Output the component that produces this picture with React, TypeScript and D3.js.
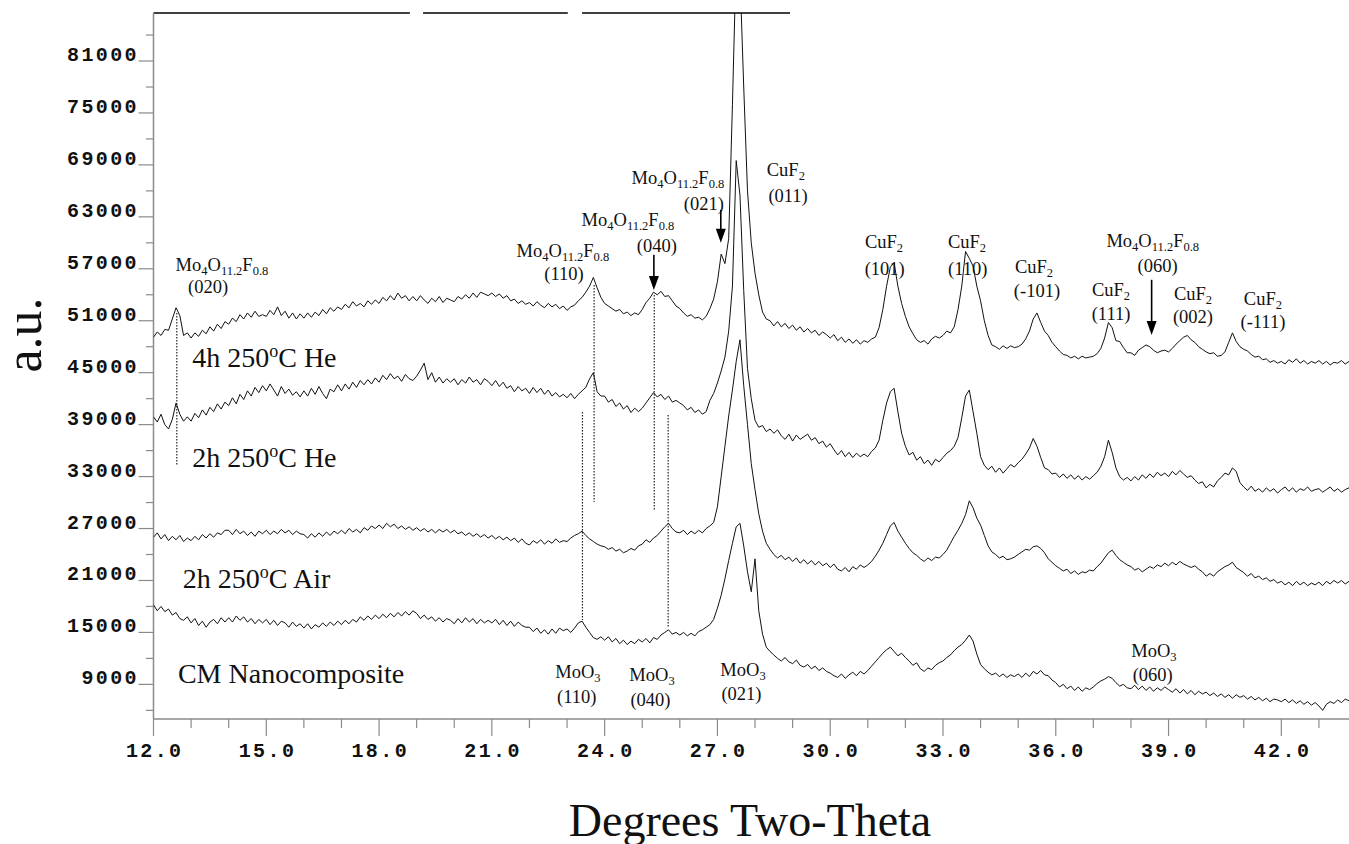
import React, { useEffect, useRef } from "react";
import * as d3 from "d3";

// two-theta sampling grid of the scan (degrees)
const thetaStart = 12.0;
const thetaStep = 0.1;

// counts, one row per degree (12.0 ... 43.9)
const he4h = [
  49100, 49700, 49300, 50000, 49900, 51200, 52500, 51600, 49300, 49600,
  49000, 49600, 49200, 49900, 49500, 50300, 49800, 50600, 50100, 50900,
  50600, 51300, 50900, 51700, 51200, 51900, 51400, 52100, 51500, 51700,
  51500, 52200, 51700, 52600, 51600, 52100, 51300, 51900, 51200, 51800,
  51300, 51900, 51400, 52000, 51600, 52300, 51800, 52500, 52100, 52600,
  52300, 52900, 52500, 53200, 52700, 53000, 52600, 53300, 52900, 53400,
  53000, 53700, 53300, 53900, 53400, 54200, 53600, 53900, 53300, 53800,
  53300, 53900, 53400, 53000, 53600, 53200, 53800, 53100, 53600, 53400,
  53200, 53800, 53500, 54000, 53600, 54200, 53700, 54300, 54100, 53900,
  54200, 53800, 54100, 53600, 53900, 53300, 53500, 53000, 53300, 52900,
  53100, 52700, 53200, 52800, 52500, 53000, 52600, 52900, 52400, 52700,
  52200, 52600, 52800, 53300, 53700, 54300, 55000, 56000, 54800, 53700,
  53000, 52700, 52400, 52100, 52300, 51800, 52000, 51600, 51900, 51700,
  52300, 53100, 53600, 54300, 54000, 54400, 53800, 53900, 53300, 52700,
  52400, 51900, 51500, 51700, 51300, 51400, 51100, 51500, 52400, 53500,
  55500, 58700, 57600, 60500, 76000, 93000, 91000, 78000, 66000, 60000,
  56500, 54000, 52000, 51200, 51000, 50400, 50900, 50300, 50700, 50100,
  50500, 49900, 50300, 49700, 50100, 49600, 49900, 49300, 49700, 49400,
  49000, 49400, 48700, 49100, 48500, 48900, 48400, 48800, 48300, 48700,
  48500, 48900, 49100, 50200, 52300, 55000, 57200, 57700, 55000, 53000,
  51500, 50300, 49500, 48800, 48500, 48700, 48300, 48900, 49200, 49000,
  49300, 49800, 49600, 50300, 52300, 55000, 59000, 58200, 57300, 55000,
  53300, 51000, 49300, 48200, 48000, 47700, 48100, 47800, 48100, 47900,
  48000, 48300, 48900, 49800, 51200, 51900, 50800, 49800, 49300, 48500,
  48000, 47500, 47100, 47000, 46700, 46900, 46600, 46900, 46700, 46800,
  46900, 47200, 47800, 49000, 50800, 50200, 48700, 48600, 47900, 47300,
  47300, 47000, 47600, 47900, 48200, 48000, 47600, 47300, 47500, 47600,
  47400, 47800, 48300, 48700, 49100, 49300, 48800, 48500, 48000, 47700,
  47400, 47200, 47300, 46900, 47000, 47400, 48500, 49600, 48600, 48000,
  47700, 47500, 47100, 46800, 46900, 46500, 46600, 46200, 46400, 46100,
  46300, 46000, 46500, 46200, 46600, 46100, 46400, 46000, 46300, 46100,
  46400, 46000, 46300, 45900, 46200, 46100, 46400, 46000, 46300, 46200,
];

const he2h = [
  39900, 39300, 40200, 39000, 38500, 39600, 41500, 40200, 39400, 39900,
  39400, 40300, 39800, 40700, 40100, 41000, 40500, 41400, 40800, 41600,
  41200, 42100, 41400, 42500, 41900, 42900, 42300, 43300, 42700, 43500,
  42900, 43700, 43000, 42300, 43400, 42600, 43100, 42400, 42800, 42200,
  42900, 42300, 43200, 42500, 43400, 42600, 42000, 43100, 42800, 43600,
  42900, 43700, 43100, 43900, 43300, 44100, 43600, 44200, 43700, 44400,
  43900, 44700, 44200, 44900, 44300, 44600, 44000, 44800, 44300, 44100,
  44600, 45300, 46100, 44200, 45000, 43900, 44500, 43800, 44300, 43900,
  44300, 43600, 44200, 43800, 44500, 43900, 44200, 43600, 44300, 44000,
  43500, 44100, 43400, 43900, 43200, 43500, 42800, 43400, 42900, 43200,
  42600, 43300, 42700, 43200, 42500, 43000, 42300, 42700, 42200, 42500,
  42100, 42600, 42000, 42500, 42900, 43300, 44300, 45000, 42800, 42300,
  42300, 41600, 41900, 41100, 41500, 40800, 41200, 40400, 40900, 40500,
  40900, 41500, 42100, 42700, 42200, 42500, 41900, 42300, 41600, 41800,
  41500, 41200, 40700, 41000, 40400, 40700, 40200, 40500, 41800, 42600,
  43800, 45200, 46800, 49800, 55000, 69500, 65500, 54500, 45500, 42000,
  39500, 38700, 38900, 38200, 38500, 38000, 38400, 37700, 37300, 37900,
  37100, 37800, 37300, 37600, 37900, 37200, 37500, 36800, 37100, 36400,
  36800, 36100, 35500, 36000, 35300, 35800, 35200, 35700, 35300, 35600,
  35300, 35900, 36300, 37200, 39500, 41500, 42800, 43200, 40500, 38000,
  36500, 35500, 35800, 34900, 35300, 34500, 34900, 34300, 35000, 34700,
  35200, 35700, 36000, 36500, 37500, 39800, 42300, 43000, 40500, 38000,
  35300, 34300, 33800, 34200, 33500, 34000, 33400, 33900, 34400, 34100,
  34600, 35000, 35600, 36300, 37400, 36500, 35200, 34000, 33800, 33300,
  33400, 32900, 33300, 32800, 33200, 32700, 33100, 32600, 33000, 32700,
  33100, 33500, 34200, 35300, 37200, 35800, 34000, 33000, 32600, 32900,
  32500, 33000, 32600, 33200, 32800, 33300, 32900, 33500, 33100, 33400,
  33000, 33600, 33200, 33700, 33300, 32900, 33100, 32600, 32200, 32400,
  31700, 32100, 31800, 32500, 32900, 33400, 33200, 34000, 33600, 32300,
  31800, 31400, 31900, 31300, 31600, 31200, 31700, 31300, 31600, 31100,
  31500, 31800, 31300, 31700, 31200, 31600, 31400, 31800, 31300, 31500,
  31600, 31200, 31500, 31800, 31300, 31600, 31200, 31500, 31700, 31400,
];

const air2h = [
  26000, 26500, 25800, 26300, 25600, 26100, 25700, 26200, 25500, 25900,
  25600, 26100, 25700, 26300, 25900, 26400, 26000, 26500, 26300, 26800,
  26800, 26300, 26900, 26400, 26700, 26200, 26600, 26100, 26700, 26400,
  26800, 26300, 26700, 26400, 26900, 26500, 26800, 26300, 26700, 26400,
  26300, 25900, 26400, 26000, 26500, 26100, 26600, 26200, 26700, 26400,
  26800, 26400, 27000, 26600, 26900, 26500, 27100, 26800, 27300, 27000,
  27400, 27000, 27600, 27200, 27500, 27000, 27300, 26900, 27200, 26800,
  27100, 26700, 27000, 26600, 26900, 26500, 26900, 26600, 26900, 26500,
  26800, 26400, 26600, 26200, 26500, 26100, 26400, 26000, 26300, 25900,
  26200, 25800, 26100, 25700, 26000, 25600, 25900, 25400, 25800, 25300,
  25100, 25600, 25300, 25700, 25200, 25600, 25300, 25800, 25400, 25600,
  25500, 25900, 26200, 26400, 26700, 26200, 25800, 25500, 25200, 25000,
  24900, 24600, 24800, 24400, 24600, 24200, 24400, 24700, 24500, 25000,
  25200, 25700, 25400, 25900, 26200, 26700, 27200, 27600, 27000, 26600,
  26500, 26800, 26300, 26700, 26400, 26800, 26500, 27000, 27300, 27700,
  29500, 33000, 36500, 40000, 43000, 46300, 48800, 43500, 39000, 34500,
  31500, 28700, 26700, 25300, 24600, 24000, 23600, 23900, 23400, 23700,
  23200, 23600, 23000, 23400, 22900, 23300, 22800, 23200, 22700, 23000,
  22500, 22900, 22300, 22100, 22500, 22000, 22600, 22300, 22800, 22500,
  22800, 23200, 23800, 24500, 25300, 26300, 27300, 27700, 26700, 26000,
  25300, 24700, 24200, 23900, 23500, 23200, 23600, 23300, 23700, 23600,
  24000, 24500, 25300, 26100, 26800, 27600, 28600, 30200, 29400, 28200,
  27400, 26200, 25000, 24300, 24000, 23600, 23800, 23400, 23500, 23700,
  24000, 24300, 24600, 24500, 24900, 25000, 24700, 24200, 23500, 23100,
  22700, 22400, 22100, 22300, 21800, 22100, 21700, 22000, 21900, 22200,
  22100, 22600, 23000, 23600, 24200, 24500, 23900, 23400, 23100, 22800,
  22600, 22200, 22400, 22000, 22300, 22600, 22400, 22800, 22600, 23000,
  22700, 23100, 22800, 23200, 22900, 22700, 22500, 22700, 22300, 22000,
  21500, 21800, 21500, 22000, 22300, 22600, 22800, 23100, 22500, 22200,
  21900, 21500, 21800, 21300, 21500, 21100, 21300, 20900, 21100, 20700,
  20900, 20500, 20800, 20400, 20900, 20500, 20800, 20400, 20700, 20500,
  20800, 20400, 20900, 20600, 21000, 20700, 21000, 20600, 20900, 20700,
];

const cmNano = [
  18200, 17500, 18000, 17400, 17700, 17000, 17300, 16600, 16400, 16800,
  16100, 16600, 15800, 16300, 15600, 16200, 16500, 16000, 16700, 16200,
  16700, 16200, 16900, 16400, 16800, 16200, 16600, 16000, 16500, 16100,
  16500, 15900, 16400, 15800, 16300, 16100, 15600, 16200, 15700, 16000,
  15500, 16000, 15400, 15900, 15600, 16100, 15700, 16200, 15800, 16300,
  15900, 16400, 16000, 16500, 16200, 16800, 16400, 16900, 16500, 17000,
  16600, 17100, 16700, 17200, 16800, 17300, 16900, 17400, 17000, 17500,
  17200, 16600, 17000, 16500, 16800, 16300, 16700, 16200, 16600, 16400,
  16000, 16600, 16100, 16700, 16200, 16600, 16000, 16500, 16100, 16400,
  16100, 16500, 15900, 16400, 15800, 16300, 15700, 16200, 15800, 15600,
  15600, 15100, 15500, 14900, 15300, 14800, 15400, 14900, 15500, 15200,
  15400, 15000, 15500, 16100, 16300, 15600, 15000, 14400, 14200, 14500,
  14100, 14500, 13900, 14300, 13700, 14100, 13600, 14000, 13700, 14200,
  13900, 14300, 13800, 14400, 14200, 14700, 15000, 15300, 14800, 15000,
  14700, 15000, 14600, 14900, 14600, 15100, 15300, 15600, 15900, 16500,
  17800, 19300, 21200, 23300, 25300, 27200, 27600, 25000, 22000, 19700,
  23500, 17500, 14800, 13300, 12800, 12400, 12000, 11700, 12100, 11600,
  11400, 11800, 11200, 11000, 11300, 10800, 11100, 10600, 10900, 10500,
  10300, 10000, 9800, 10200, 9700, 10100, 10400, 10000, 10500, 10200,
  10600, 11100, 11600, 12100, 12600, 13000, 13300, 12800, 12300, 12600,
  12100, 11700, 11200, 11500, 10800, 10500, 10900, 10700, 11200, 11500,
  11700, 12100, 12400, 12900, 13300, 13600, 14100, 14700, 14000, 12500,
  11300, 10800, 10400, 10100, 10300, 9900, 10200, 9800, 10100, 9900,
  10200, 9800, 10300, 9900, 10500, 10200, 10600, 10100, 10000, 9500,
  9200, 8700, 9000, 8500, 8800, 8300, 8700, 8200, 8600, 8400,
  8700, 9100, 9400, 9600, 9900, 9700, 9200, 8800, 9000, 8600,
  8500, 8900, 8400, 8800, 8300, 8700, 8200, 8600, 8300, 8700,
  8400, 8100, 8500, 8000, 8400, 7900, 8300, 7800, 8200, 7900,
  8100, 7700, 8000, 7600, 7900, 7500, 7800, 7400, 7800, 7500,
  7700, 7300, 7600, 7200, 7500, 7100, 7400, 7000, 7300, 7200,
  7000, 7300, 6900, 7200, 6800, 7100, 6700, 7000, 6600, 6900,
  6500, 6000, 6700, 7000, 6800, 7200, 6900, 7300, 7100, 7400,
];

const xTicks = [12, 15, 18, 21, 24, 27, 30, 33, 36, 39, 42];
const yTicks = [9000, 15000, 21000, 27000, 33000, 39000, 45000, 51000, 57000, 63000, 69000, 75000, 81000];

// sample names, placed in data units (theta, counts at baseline)
const sampleLabels = [
  { pre: "4h 250", sup: "o", post: "C He", theta: 13.03, value: 45670 },
  { pre: "2h 250", sup: "o", post: "C He", theta: 13.03, value: 34120 },
  { pre: "2h 250", sup: "o", post: "C Air", theta: 12.78, value: 20120 },
  { pre: "CM Nanocomposite", sup: "", post: "", theta: 12.65, value: 9150 },
];

// phase / reflection labels: formula line and hkl line
const peakLabels = [
  { f: "mo", hkl: "(020)", ft: 13.82, fv: 56700, ht: 13.45, hv: 54210 },
  { f: "mo", hkl: "(110)", ft: 22.89, fv: 58400, ht: 22.92, hv: 55730 },
  { f: "mo", hkl: "(040)", ft: 24.62, fv: 61950, ht: 25.39, hv: 58960 },
  { f: "mo", hkl: "(021)", ft: 25.95, fv: 66800, ht: 26.64, hv: 63810 },
  { f: "cuf2", hkl: "(011)", ft: 28.82, fv: 67710, ht: 28.88, hv: 64700 },
  { f: "cuf2", hkl: "(101)", ft: 31.43, fv: 59420, ht: 31.45, hv: 56300 },
  { f: "cuf2", hkl: "(110)", ft: 33.64, fv: 59420, ht: 33.66, hv: 56300 },
  { f: "cuf2", hkl: "(-101)", ft: 35.42, fv: 56520, ht: 35.5, hv: 53750 },
  { f: "cuf2", hkl: "(111)", ft: 37.47, fv: 53870, ht: 37.47, hv: 51100 },
  { f: "mo", hkl: "(060)", ft: 38.58, fv: 59500, ht: 38.71, hv: 56650 },
  { f: "cuf2", hkl: "(002)", ft: 39.65, fv: 53400, ht: 39.65, hv: 50750 },
  { f: "cuf2", hkl: "(-111)", ft: 41.51, fv: 52830, ht: 41.51, hv: 50170 },
  { f: "moo3", hkl: "(110)", ft: 23.29, fv: 9730, ht: 23.26, hv: 6840 },
  { f: "moo3", hkl: "(040)", ft: 25.26, fv: 9380, ht: 25.22, hv: 6490 },
  { f: "moo3", hkl: "(021)", ft: 27.68, fv: 9960, ht: 27.64, hv: 7190 },
  { f: "moo3", hkl: "(060)", ft: 38.61, fv: 12150, ht: 38.58, hv: 9380 },
];

const formulas: Record<string, [string, boolean][]> = {
  mo: [["Mo", false], ["4", true], ["O", false], ["11.2", true], ["F", false], ["0.8", true]],
  cuf2: [["CuF", false], ["2", true]],
  moo3: [["MoO", false], ["3", true]],
};

// dotted drop lines and arrows (theta, top counts, bottom counts)
const dropLines = [
  { theta: 12.62, v1: 51900, v2: 34370 },
  { theta: 23.72, v1: 55130, v2: 30060 },
  { theta: 25.32, v1: 53970, v2: 29140 },
  { theta: 23.41, v1: 40450, v2: 16430 },
  { theta: 25.69, v1: 40110, v2: 15500 },
];
const arrows = [
  { theta: 25.31, v1: 58610, v2: 54540 },
  { theta: 27.09, v1: 63810, v2: 60000 },
  { theta: 38.55, v1: 55730, v2: 49350 },
];
const topFrame = [
  [12, 18.82],
  [19.17, 23.02],
  [23.4, 28.93],
];

const App = () => {
  const svgRef = useRef<SVGSVGElement>(null);

  useEffect(() => {
    document.body.style.margin = "0";
    const width = 1349;
    const height = 844;
    const left = 153.5;
    const top = 13;
    const bottom = 719;

    const svg = d3.select(svgRef.current);
    svg.selectAll("*").remove();

    const x = d3.scaleLinear().domain([12, 43.8]).range([left, width]);
    const y = d3.scaleLinear().domain([5000, 86545]).range([bottom, top]);

    const serif = "'Liberation Serif', 'Times New Roman', serif";
    const mono = "'Liberation Mono', 'Courier New', monospace";
    const axisColor = "#8a8a8a";

    svg.append("rect").attr("width", width).attr("height", height).attr("fill", "#fff");

    // clip for the scans
    svg
      .append("defs")
      .append("clipPath")
      .attr("id", "plot-clip")
      .append("rect")
      .attr("x", left)
      .attr("y", top)
      .attr("width", width - left)
      .attr("height", bottom - top);

    // top frame pieces
    topFrame.forEach(([a, b]) => {
      svg
        .append("line")
        .attr("x1", x(a))
        .attr("x2", x(b))
        .attr("y1", top)
        .attr("y2", top)
        .attr("stroke", "#000")
        .attr("stroke-width", 1.5);
    });

    // y axis
    const yMinor = d3.range(6000, 86000, 3000).filter((v) => !yTicks.includes(v));
    svg
      .append("line")
      .attr("x1", left)
      .attr("x2", left)
      .attr("y1", top)
      .attr("y2", bottom)
      .attr("stroke", axisColor)
      .attr("stroke-width", 1.5);
    yTicks.forEach((v) => {
      svg
        .append("line")
        .attr("x1", left - 15)
        .attr("x2", left)
        .attr("y1", y(v))
        .attr("y2", y(v))
        .attr("stroke", axisColor)
        .attr("stroke-width", 1.2);
      svg
        .append("text")
        .attr("x", 139)
        .attr("y", y(v))
        .attr("text-anchor", "end")
        .attr("font-family", mono)
        .attr("font-weight", "bold")
        .attr("font-size", 20)
        .attr("letter-spacing", 2.4)
        .attr("fill", "#111")
        .text(v);
    });
    yMinor.forEach((v) => {
      svg
        .append("line")
        .attr("x1", left - 7.5)
        .attr("x2", left)
        .attr("y1", y(v))
        .attr("y2", y(v))
        .attr("stroke", axisColor)
        .attr("stroke-width", 1.2);
    });

    // x axis
    svg
      .append("line")
      .attr("x1", left)
      .attr("x2", width)
      .attr("y1", bottom)
      .attr("y2", bottom)
      .attr("stroke", axisColor)
      .attr("stroke-width", 1.5);
    d3.range(12, 44, 1).forEach((t) => {
      const major = xTicks.includes(t);
      svg
        .append("line")
        .attr("x1", x(t))
        .attr("x2", x(t))
        .attr("y1", bottom)
        .attr("y2", bottom + (major ? 17 : 9))
        .attr("stroke", axisColor)
        .attr("stroke-width", 1.2);
    });
    xTicks.forEach((t) => {
      svg
        .append("text")
        .attr("x", x(t) + 1.2)
        .attr("y", 757)
        .attr("text-anchor", "middle")
        .attr("font-family", mono)
        .attr("font-weight", "bold")
        .attr("font-size", 20)
        .attr("letter-spacing", 2.4)
        .attr("fill", "#111")
        .text(t.toFixed(1));
    });

    // scans
    const line = d3
      .line<number>()
      .x((_, i) => x(thetaStart + i * thetaStep))
      .y((d) => y(d));
    const traces = svg.append("g").attr("clip-path", "url(#plot-clip)");
    [he4h, he2h, air2h, cmNano].forEach((s) => {
      traces
        .append("path")
        .datum(s)
        .attr("fill", "none")
        .attr("stroke", "#111")
        .attr("stroke-width", 1)
        .attr("stroke-linejoin", "round")
        .attr("d", line);
    });

    // dotted drop lines
    dropLines.forEach((d) => {
      svg
        .append("line")
        .attr("x1", x(d.theta))
        .attr("x2", x(d.theta))
        .attr("y1", y(d.v1))
        .attr("y2", y(d.v2))
        .attr("stroke", "#222")
        .attr("stroke-width", 1.2)
        .attr("stroke-dasharray", "1.5,1.5");
    });

    // arrows
    arrows.forEach((d) => {
      const ax = x(d.theta);
      const y1 = y(d.v1);
      const y2 = y(d.v2);
      svg
        .append("line")
        .attr("x1", ax)
        .attr("x2", ax)
        .attr("y1", y1)
        .attr("y2", y2 - 10)
        .attr("stroke", "#000")
        .attr("stroke-width", 1.6);
      svg
        .append("path")
        .attr("d", `M${ax - 5},${y2 - 14} L${ax + 5},${y2 - 14} L${ax},${y2} Z`)
        .attr("fill", "#000");
    });

    // peak labels
    peakLabels.forEach((p) => {
      const t = svg
        .append("text")
        .attr("x", x(p.ft))
        .attr("y", y(p.fv))
        .attr("text-anchor", "middle")
        .attr("font-family", serif)
        .attr("font-size", 18.5)
        .attr("fill", "#111");
      let down = false;
      formulas[p.f].forEach(([txt, sub]) => {
        const span = t.append("tspan").text(txt);
        if (sub && !down) {
          span.attr("dy", 4).attr("font-size", 12.5);
          down = true;
        } else if (sub) {
          span.attr("font-size", 12.5);
        } else if (down) {
          span.attr("dy", -4);
          down = false;
        }
      });
      svg
        .append("text")
        .attr("x", x(p.ht))
        .attr("y", y(p.hv))
        .attr("text-anchor", "middle")
        .attr("font-family", serif)
        .attr("font-size", 18.5)
        .attr("fill", "#111")
        .text(p.hkl);
    });

    // sample names
    sampleLabels.forEach((s) => {
      const t = svg
        .append("text")
        .attr("x", x(s.theta))
        .attr("y", y(s.value))
        .attr("font-family", serif)
        .attr("font-size", 28)
        .attr("fill", "#111");
      t.append("tspan").text(s.pre);
      if (s.sup) {
        t.append("tspan").attr("dy", -10).attr("font-size", 18).text(s.sup);
        t.append("tspan").attr("dy", 10).text(s.post);
      }
    });

    // axis titles
    svg
      .append("text")
      .attr("x", 750)
      .attr("y", 836)
      .attr("text-anchor", "middle")
      .attr("font-family", serif)
      .attr("font-size", 46)
      .attr("fill", "#111")
      .text("Degrees Two-Theta");
    svg
      .append("text")
      .attr("transform", "translate(41,335) rotate(-90)")
      .attr("text-anchor", "middle")
      .attr("font-family", serif)
      .attr("font-size", 52)
      .attr("fill", "#111")
      .text("a.u.");
  }, []);

  return <svg ref={svgRef} width={1349} height={844} style={{ display: "block" }} />;
};

export default App;
